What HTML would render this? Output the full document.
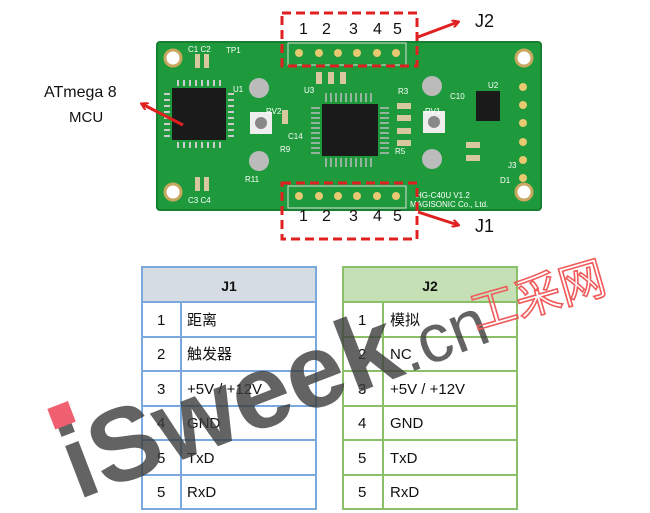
<!DOCTYPE html>
<html><head><meta charset="utf-8"><style>
html,body{margin:0;padding:0;background:#fff;width:650px;height:513px;overflow:hidden}
svg{display:block}
text{font-family:"Liberation Sans","Noto Sans CJK SC",sans-serif}
</style></head><body>
<svg width="650" height="513" viewBox="0 0 650 513" xmlns="http://www.w3.org/2000/svg">
<defs>
<marker id="ah" markerWidth="8" markerHeight="8" refX="6" refY="4" orient="auto" markerUnits="userSpaceOnUse"><path d="M0,0 L7,4 L0,8" fill="none" stroke="#e02020" stroke-width="2.2"/></marker>
</defs>
<rect x="157" y="42" width="384" height="168" rx="3" fill="#1e9a3c"/>
<rect x="157" y="42" width="384" height="168" rx="3" fill="none" stroke="#168030" stroke-width="2"/>
<g fill="#fff" stroke="#c8a860" stroke-width="3">
<circle cx="173" cy="58" r="8"/><circle cx="524" cy="58" r="8"/><circle cx="173" cy="192" r="8"/><circle cx="524" cy="192" r="8"/>
</g>
<rect x="172" y="88" width="54" height="52" fill="#1a1a1a"/>
<g stroke="#ccc" stroke-width="2">
<path d="M178,86v-6M184,86v-6M190,86v-6M196,86v-6M202,86v-6M208,86v-6M214,86v-6M220,86v-6"/>
<path d="M178,142v6M184,142v6M190,142v6M196,142v6M202,142v6M208,142v6M214,142v6M220,142v6"/>
<path d="M170,94h-6M170,100h-6M170,106h-6M170,112h-6M170,118h-6M170,124h-6M170,130h-6M170,136h-6"/>
<path d="M228,94h6M228,100h6M228,106h6M228,112h6M228,118h6M228,124h6M228,130h6M228,136h6"/>
</g>
<rect x="322" y="104" width="56" height="52" fill="#1a1a1a"/>
<g stroke="#bbb" stroke-width="1.5">
<path d="M326,102v-9M331,102v-9M336,102v-9M341,102v-9M346,102v-9M351,102v-9M356,102v-9M361,102v-9M366,102v-9M371,102v-9"/>
<path d="M326,158v9M331,158v9M336,158v9M341,158v9M346,158v9M351,158v9M356,158v9M361,158v9M366,158v9M371,158v9"/>
<path d="M320,108h-9M320,113h-9M320,118h-9M320,123h-9M320,128h-9M320,133h-9M320,138h-9M320,143h-9M320,148h-9M320,153h-9"/>
<path d="M380,108h9M380,113h9M380,118h9M380,123h9M380,128h9M380,133h9M380,138h9M380,143h9M380,148h9M380,153h9"/>
</g>
<g fill="#bbb"><circle cx="259" cy="88" r="10"/><circle cx="432" cy="86" r="10"/><circle cx="259" cy="161" r="10"/><circle cx="432" cy="159" r="10"/></g>
<rect x="250" y="112" width="22" height="22" fill="#eee"/><circle cx="261" cy="123" r="6" fill="#888"/>
<rect x="423" y="111" width="22" height="22" fill="#eee"/><circle cx="434" cy="122" r="6" fill="#888"/>
<rect x="476" y="91" width="24" height="30" fill="#1a1a1a"/>
<g fill="#d8c8a0"><rect x="195" y="54" width="5" height="14"/><rect x="204" y="54" width="5" height="14"/><rect x="195" y="177" width="5" height="14"/><rect x="204" y="177" width="5" height="14"/><rect x="316" y="72" width="6" height="12"/><rect x="328" y="72" width="6" height="12"/><rect x="340" y="72" width="6" height="12"/><rect x="397" y="103" width="14" height="6"/><rect x="397" y="115" width="14" height="6"/><rect x="397" y="128" width="14" height="6"/><rect x="397" y="140" width="14" height="6"/><rect x="282" y="110" width="6" height="14"/><rect x="466" y="142" width="14" height="6"/><rect x="466" y="155" width="14" height="6"/></g>
<g fill="none" stroke="#ddd"><rect x="288" y="43" width="118" height="22"/><rect x="288" y="186" width="118" height="22"/></g>
<g fill="#e8c870"><circle cx="299" cy="53" r="4"/><circle cx="319" cy="53" r="4"/><circle cx="338" cy="53" r="4"/><circle cx="357" cy="53" r="4"/><circle cx="377" cy="53" r="4"/><circle cx="396" cy="53" r="4"/>
<circle cx="299" cy="196" r="4"/><circle cx="319" cy="196" r="4"/><circle cx="338" cy="196" r="4"/><circle cx="357" cy="196" r="4"/><circle cx="377" cy="196" r="4"/><circle cx="396" cy="196" r="4"/>
<circle cx="523" cy="87" r="4"/><circle cx="523" cy="105" r="4"/><circle cx="523" cy="123" r="4"/><circle cx="523" cy="142" r="4"/><circle cx="523" cy="160" r="4"/><circle cx="523" cy="178" r="4"/></g>
<g fill="#fff" font-size="8"><text x="188" y="52">C1 C2</text><text x="226" y="53">TP1</text><text x="233" y="92">U1</text><text x="266" y="114">RV2</text><text x="304" y="93">U3</text><text x="425" y="114">RV1</text><text x="488" y="88">U2</text><text x="450" y="99">C10</text><text x="398" y="94">R3</text><text x="395" y="154">R5</text><text x="288" y="139">C14</text><text x="280" y="152">R9</text><text x="245" y="182">R11</text><text x="188" y="203">C3 C4</text><text x="508" y="168">J3</text><text x="500" y="183">D1</text><text x="416" y="198">HG-C40U V1.2</text><text x="410" y="207">MAGISONIC Co., Ltd.</text></g>
<g fill="none" stroke="#e02020" stroke-width="3" stroke-dasharray="9,5"><rect x="282" y="13" width="135" height="53"/><rect x="282" y="183" width="135" height="56"/></g>
<g font-size="16" fill="#111"><text x="299" y="34">1</text><text x="322" y="34">2</text><text x="349" y="34">3</text><text x="373" y="34">4</text><text x="393" y="34">5</text>
<text x="299" y="221">1</text><text x="322" y="221">2</text><text x="349" y="221">3</text><text x="373" y="221">4</text><text x="393" y="221">5</text></g>
<g stroke="#e02020" stroke-width="3" fill="none" marker-end="url(#ah)"><line x1="418" y1="37" x2="458" y2="22"/><line x1="418" y1="212" x2="458" y2="225"/><line x1="183" y1="125" x2="142" y2="104"/></g>
<text x="475" y="27" font-size="18" fill="#111">J2</text>
<text x="475" y="232" font-size="18" fill="#111">J1</text>
<text x="44" y="97" font-size="16" fill="#111">ATmega 8</text>
<text x="69" y="122" font-size="15" fill="#111">MCU</text>
<g font-size="15" fill="#111">
<rect x="142" y="267" width="174" height="35" fill="#d6dce4"/>
<rect x="343" y="267" width="174" height="35" fill="#c5e0b4"/>
<g stroke="#7aa9dd" stroke-width="2" fill="none"><rect x="142" y="267" width="174" height="242"/><path d="M142,302h174M142,337h174M142,371h174M142,406h174M142,440h174M142,475h174M181,302v207"/></g>
<g stroke="#8cc068" stroke-width="2" fill="none"><rect x="343" y="267" width="174" height="242"/><path d="M343,302h174M343,337h174M343,371h174M343,406h174M343,440h174M343,475h174M383,302v207"/></g>
<text x="229" y="291" font-weight="bold" text-anchor="middle" font-size="14">J1</text>
<text x="430" y="291" font-weight="bold" text-anchor="middle" font-size="14">J2</text>
<text x="157" y="325">1</text><text x="187" y="325">距离</text>
<text x="157" y="359">2</text><text x="187" y="359">触发器</text>
<text x="157" y="394">3</text><text x="187" y="394">+5V / +12V</text>
<text x="157" y="428">4</text><text x="187" y="428">GND</text>
<text x="157" y="463">5</text><text x="187" y="463">TxD</text>
<text x="157" y="497">5</text><text x="187" y="497">RxD</text>
<text x="358" y="325">1</text><text x="390" y="325">模拟</text>
<text x="358" y="359">2</text><text x="390" y="359">NC</text>
<text x="358" y="394">3</text><text x="390" y="394">+5V / +12V</text>
<text x="358" y="428">4</text><text x="390" y="428">GND</text>
<text x="358" y="463">5</text><text x="390" y="463">TxD</text>
<text x="358" y="497">5</text><text x="390" y="497">RxD</text>
</g>
<g transform="rotate(-21 78 500)">
<text x="78" y="500" font-size="104" font-weight="bold" fill="#3c3c3c" fill-opacity="0.8">iSweek</text>
<rect x="82" y="404" width="22" height="22" fill="#f06070"/>
<text x="432" y="500" font-size="68" fill="#3c3c3c" fill-opacity="0.8">.cn</text>
</g>
<text x="476" y="330" font-size="46" fill="none" stroke="#f05a5a" stroke-width="1.6" transform="rotate(-16 476 330)" font-family="Noto Sans CJK SC,sans-serif">工采网</text>
</svg>
</body></html>
